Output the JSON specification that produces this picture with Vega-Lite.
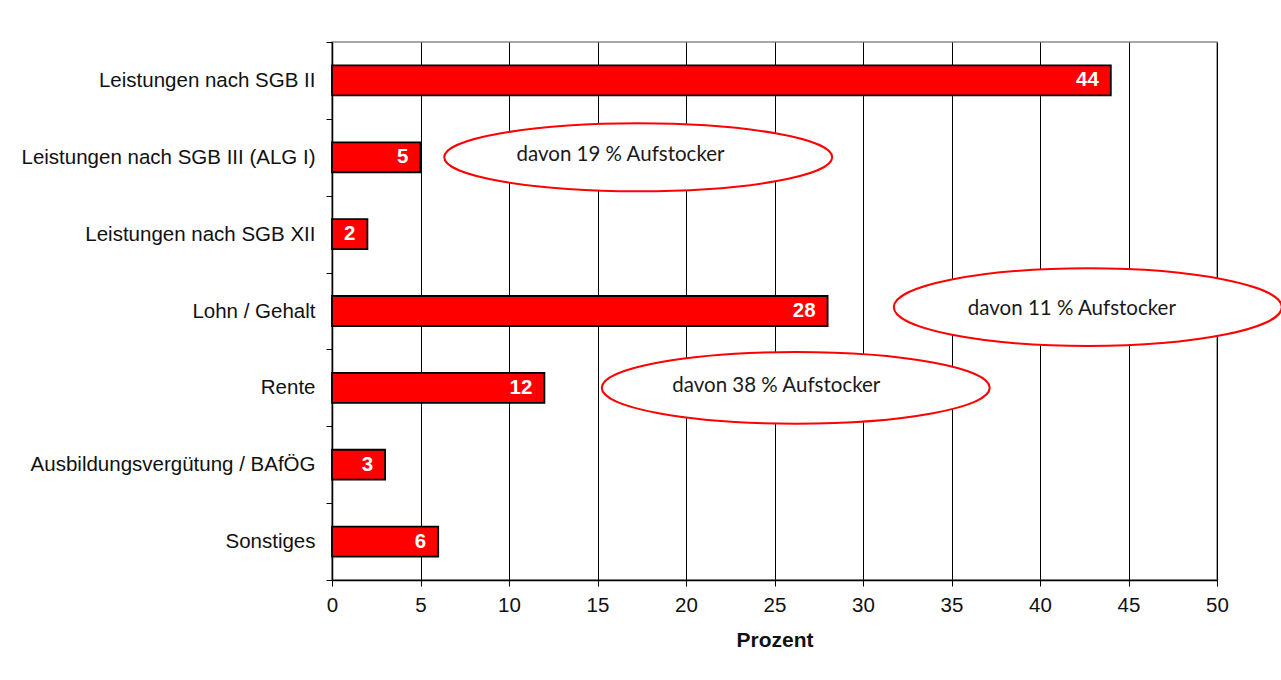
{
  "$schema": "https://vega.github.io/schema/vega-lite/v6.json",
  "autosize": {"type": "none"},
  "padding": {"left": 332, "top": 42, "right": 64, "bottom": 100},
  "width": 885,
  "height": 538,
  "background": "white",
  "config": {
    "view": {"stroke": "#8a8a8a", "strokeWidth": 1.5},
    "font": "Liberation Sans",
    "axis": {"labelFont": "Liberation Sans", "titleFont": "Liberation Sans", "labelColor": "#111", "titleColor": "#111"}
  },
  "datasets": {
    "anteile": [
      {"Einkommensquelle": "Leistungen nach SGB II", "Prozent": 44},
      {"Einkommensquelle": "Leistungen nach SGB III (ALG I)", "Prozent": 5},
      {"Einkommensquelle": "Leistungen nach SGB XII", "Prozent": 2},
      {"Einkommensquelle": "Lohn / Gehalt", "Prozent": 28},
      {"Einkommensquelle": "Rente", "Prozent": 12},
      {"Einkommensquelle": "Ausbildungsvergütung / BAfÖG", "Prozent": 3},
      {"Einkommensquelle": "Sonstiges", "Prozent": 6}
    ],
    "hinweise": [
      {"Einkommensquelle": "Leistungen nach SGB III (ALG I)", "Ellipse": 17.3, "Textmitte": 16.3, "Hinweis": "davon 19 % Aufstocker"},
      {"Einkommensquelle": "Lohn / Gehalt", "Ellipse": 42.7, "Textmitte": 41.8, "Hinweis": "davon 11 % Aufstocker"},
      {"Einkommensquelle": "Rente", "Ellipse": 26.2, "Textmitte": 25.1, "Hinweis": "davon 38 % Aufstocker"}
    ]
  },
  "encoding": {
    "y": {
      "field": "Einkommensquelle",
      "type": "nominal",
      "sort": null,
      "scale": {"domain": ["Leistungen nach SGB II", "Leistungen nach SGB III (ALG I)", "Leistungen nach SGB XII", "Lohn / Gehalt", "Rente", "Ausbildungsvergütung / BAfÖG", "Sonstiges"], "paddingInner": 0, "paddingOuter": 0},
      "axis": {
        "title": null,
        "labelFontSize": 20.5,
        "labelLimit": 400,
        "labelPadding": 11,
        "tickSize": 6,
        "tickColor": "#000",
        "tickBand": "extent",
        "domainColor": "#000",
        "domainWidth": 1.5,
        "grid": false
      }
    }
  },
  "layer": [
    {
      "data": {"name": "anteile"},
      "mark": {"type": "bar", "color": "#ff0000", "stroke": "#000", "strokeWidth": 1.8, "height": {"band": 0.39}},
      "encoding": {
        "x": {
          "field": "Prozent",
          "type": "quantitative",
          "scale": {"domain": [0, 50], "nice": false},
          "axis": {
            "title": "Prozent",
            "titleFontSize": 21,
            "titleFontWeight": "bold",
            "titlePadding": 14,
            "values": [0, 5, 10, 15, 20, 25, 30, 35, 40, 45, 50],
            "labelFontSize": 20.5,
            "labelFlush": false,
            "labelPadding": 9,
            "tickSize": 6,
            "tickColor": "#000",
            "domainColor": "#000",
            "domainWidth": 1.5,
            "grid": true,
            "gridColor": "#000",
            "gridWidth": 1,
            "gridOpacity": 1
          }
        }
      }
    },
    {
      "data": {"name": "anteile"},
      "mark": {"type": "text", "align": "right", "baseline": "middle", "dx": -12, "fontSize": 20.5, "fontWeight": "bold", "color": "white"},
      "encoding": {
        "x": {"field": "Prozent", "type": "quantitative"},
        "text": {"field": "Prozent", "type": "quantitative"}
      }
    },
    {
      "data": {"name": "hinweise"},
      "mark": {"type": "point", "filled": false, "fill": "white", "fillOpacity": 1, "stroke": "#ff0000", "strokeWidth": 2, "opacity": 1, "size": 150544},
      "encoding": {
        "x": {"field": "Ellipse", "type": "quantitative"},
        "shape": {
          "field": "Hinweis",
          "type": "nominal",
          "legend": null,
          "scale": {
            "domain": ["davon 19 % Aufstocker", "davon 11 % Aufstocker", "davon 38 % Aufstocker"],
            "range": [
              "M -1 0 C -1 -0.0966 -0.5523 -0.175 0 -0.175 C 0.5523 -0.175 1 -0.0966 1 0 C 1 0.0966 0.5523 0.175 0 0.175 C -0.5523 0.175 -1 0.0966 -1 0 Z",
              "M -1 -0.02 C -1 -0.1305 -0.5523 -0.22 0 -0.22 C 0.5523 -0.22 1 -0.1305 1 -0.02 C 1 0.0905 0.5523 0.18 0 0.18 C -0.5523 0.18 -1 0.0905 -1 -0.02 Z",
              "M -1 0 C -1 -0.1022 -0.5523 -0.185 0 -0.185 C 0.5523 -0.185 1 -0.1022 1 0 C 1 0.1022 0.5523 0.185 0 0.185 C -0.5523 0.185 -1 0.1022 -1 0 Z"
            ]
          }
        }
      }
    },
    {
      "data": {"name": "hinweise"},
      "mark": {"type": "text", "align": "center", "baseline": "middle", "font": "Lato", "fontSize": 20.5, "color": "#1a1a1a", "dy": -2},
      "encoding": {
        "x": {"field": "Textmitte", "type": "quantitative"},
        "text": {"field": "Hinweis", "type": "nominal"}
      }
    }
  ]
}
